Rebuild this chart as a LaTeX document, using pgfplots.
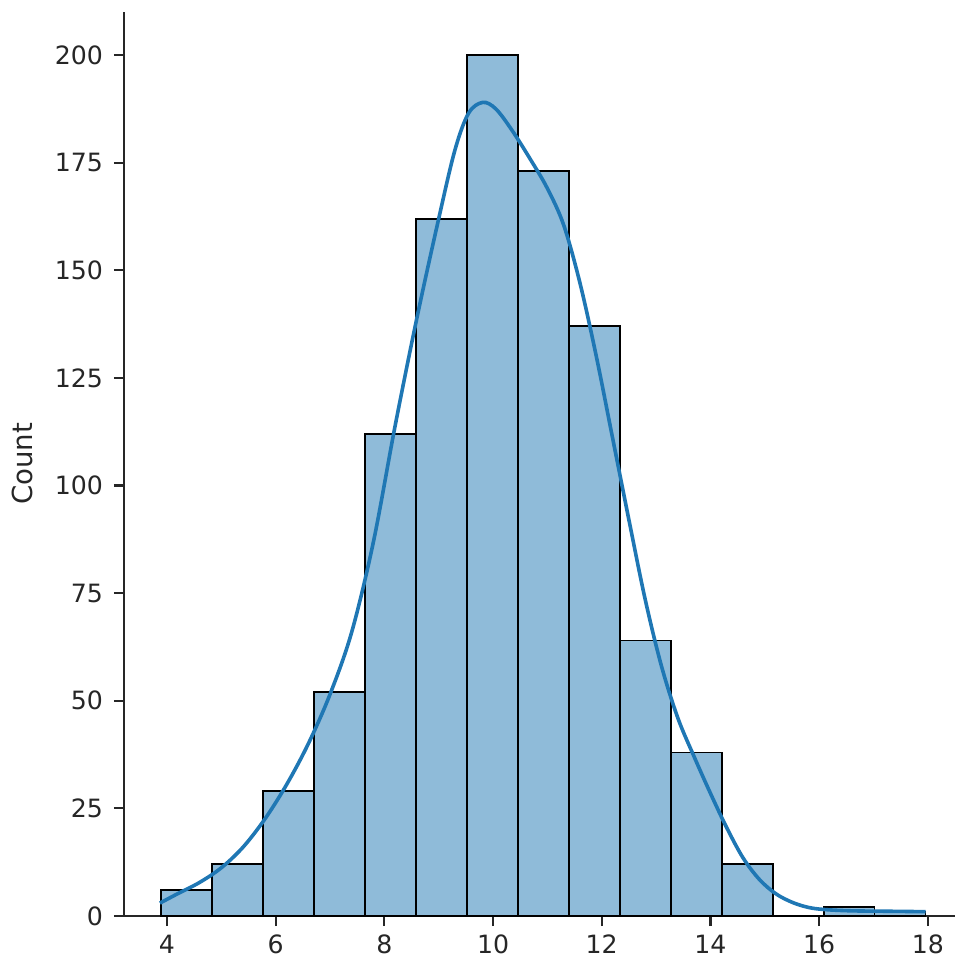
\documentclass[border=0pt]{standalone}
\usepackage{fontspec}
\setmainfont{DejaVu Sans}
\usepackage{pgfplots}
\pgfplotsset{compat=1.18}

\definecolor{histfill}{HTML}{8FBBD9}
\definecolor{kdeblue}{HTML}{1F77B4}
\definecolor{spine}{HTML}{262626}

\begin{document}
\begin{tikzpicture}
    % page = 955x960 px at 0.5pt per px
    \path[use as bounding box] (-62pt,-22pt) rectangle (415.5pt,458pt);
    \begin{axis}[
        scale only axis,
        width=415.5pt, height=452pt,
        xmin=3.209, xmax=18.5,
        ymin=0, ymax=210,
        axis x line*=bottom,
        axis y line*=left,
        axis line style={spine, line width=1.2pt},
        tick align=outside,
        major tick length=5pt,
        tick style={spine, line width=1.1pt},
        xtick={4,6,...,18},
        ytick={0,25,...,200},
        ticklabel style={font=\fontsize{12.6}{15}\selectfont, text=spine},
        /pgf/number format/assume math mode=true,
        xticklabel style={yshift=-1pt},
        yticklabel style={xshift=-2pt},
        ylabel={Count},
        ylabel style={at={(axis description cs:-0.1227,0.5)}, anchor=center,
            rotate=0, font=\fontsize{13.8}{16}\selectfont, text=spine},
        clip=false,
    ]
        % histogram, 15 bins (last x is right edge of the final bin)
        \addplot[ybar interval, fill=histfill, draw=black, line width=0.9pt] coordinates {
            (3.895,6) (4.8325,12) (5.77,29) (6.7075,52) (7.645,112)
            (8.5825,162) (9.52,200) (10.4575,173) (11.395,137) (12.3325,64)
            (13.27,38) (14.2075,12) (15.145,0) (16.0825,2) (17.02,1)
            (17.9575,1)
        };
        % kde curve
        \addplot[kdeblue, line width=1.8pt, smooth, tension=0.55, no marks] coordinates {
            (3.87,3.0) (4.2,5.2) (4.6,7.8) (5.0,11.2) (5.4,16.0) (5.8,22.5)
            (6.2,30.5) (6.6,40) (7.0,51.5) (7.4,66) (7.8,87) (8.2,114)
            (8.6,139) (9.0,162) (9.3,178) (9.55,186.5) (9.81,189)
            (10.05,187.5) (10.35,182.5) (10.7,175.5) (11.0,169) (11.3,160.5)
            (11.6,147) (11.9,130) (12.2,111) (12.5,92) (12.8,73.5)
            (13.1,58) (13.4,46) (13.7,37) (14.0,28.5) (14.3,20.5)
            (14.6,13.5) (14.9,8.5) (15.2,5.2) (15.5,3.2) (15.8,2.0)
            (16.1,1.5) (16.6,1.2) (17.3,1.1) (17.96,1.0)
        };
    \end{axis}
\end{tikzpicture}
\end{document}
